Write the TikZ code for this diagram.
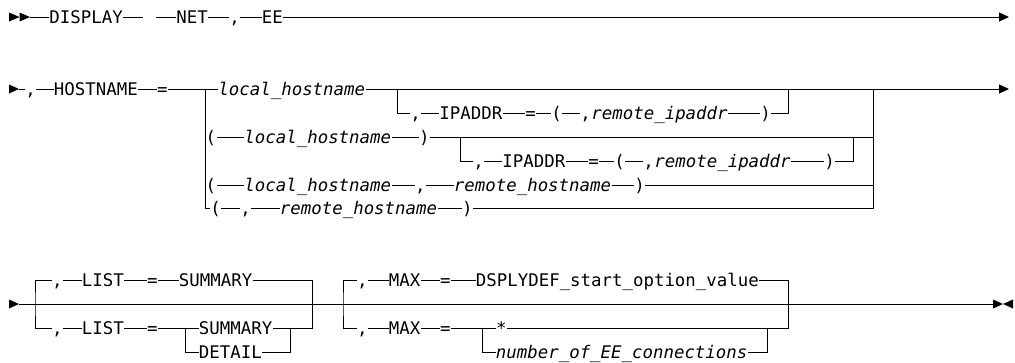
\documentclass[tikz,border=0pt]{standalone}
\usepackage{fontspec}
\setmonofont{DejaVu Sans Mono}
\usetikzlibrary{arrows.meta}
\newcommand{\railfont}{\ttfamily\fontsize{17.4}{20}\selectfont}

\begin{document}
\begin{tikzpicture}[x=1pt, y=-1pt, line width=0.9pt,
    kw/.style={anchor=west, inner sep=0pt, text height=12.7pt, text depth=0pt, font=\railfont},
    var/.style={kw, font=\railfont\itshape},
    endarrow/.style={-{Triangle[length=10pt,width=9pt]}}]
  \useasboundingbox (0,0) rectangle (1015,362);

  % first line
  \fill (9,12.5) -- (19.5,17) -- (9,21.5) -- cycle;
  \fill (19.5,12.5) -- (30,17) -- (19.5,21.5) -- cycle;
  \coordinate (start) at (30,17);
  \node[kw] (display) at (49,17) {DISPLAY};
  \coordinate (gapl) at (143,17);
  \coordinate (gapr) at (156,17);
  \node[kw] (net) at (176,17) {NET};
  \node[kw] (comma) at (229,17) {,};
  \node[kw] (ee) at (261.5,17) {EE};
  \coordinate (end) at (1009,17);
  \draw (start) -- (display);
  \draw (display) -- (gapl);
  \draw (gapr) -- (net);
  \draw (net) -- (comma);
  \draw (comma) -- (ee);
  \draw[endarrow] (ee) -- (end);

  % HOSTNAME line
  \fill (9,84.5) -- (19,89) -- (9,93.5) -- cycle;
  \coordinate (hstart) at (19,89);
  \node[kw] (hcomma) at (25,89) {,};
  \node[kw] (hostname) at (53.5,89) {HOSTNAME};
  \node[kw] (heq) at (156.75,89) {=};
  \coordinate (hsplit) at (205,89);
  \node[var] (loca) at (218,89) {local\_hostname};
  \coordinate (hjoin) at (873,89);
  \coordinate (hend) at (1009,89);
  \draw (hstart) -- (hcomma);
  \draw (hcomma) -- (hostname);
  \draw (hostname) -- (heq);
  \draw (heq) -- (loca);
  \draw[endarrow] (loca) -- (hend);

  % optional IPADDR after local_hostname
  \coordinate (ipasplit) at (397,89);
  \node[kw] (ipacomma) at (410,113) {,};
  \node[kw] (ipaword) at (439,113) {IPADDR};
  \node[kw] (ipaeq) at (525,113) {=};
  \node[kw] (ipalp) at (551,113) {(};
  \node[kw] (ipasep) at (580,113) {,};
  \node[var] (iparem) at (591,113) {remote\_ipaddr};
  \node[kw] (iparp) at (760,113) {)};
  \coordinate (ipajoin) at (788,89);
  \draw (ipasplit) |- (ipacomma);
  \draw (ipacomma) -- (ipaword);
  \draw (ipaword) -- (ipaeq);
  \draw (ipaeq) -- (ipalp);
  \draw (ipalp) -- (ipasep);
  \draw (iparem) -- (iparp);
  \draw (iparp) -| (ipajoin);

  % (local_hostname)
  \node[kw] (lpb) at (205.25,137) {(};
  \node[var] (locb) at (244,137) {local\_hostname};
  \node[kw] (rpb) at (418.75,137) {)};
  \draw (lpb) -- (locb);
  \draw (locb) -- (rpb);
  \draw (rpb) -- (hjoin |- rpb);

  % optional IPADDR after (local_hostname)
  \coordinate (ipbsplit) at (460,137);
  \node[kw] (ipbcomma) at (473,161) {,};
  \node[kw] (ipbword) at (502,161) {IPADDR};
  \node[kw] (ipbeq) at (588,161) {=};
  \node[kw] (ipblp) at (614,161) {(};
  \node[kw] (ipbsep) at (643,161) {,};
  \node[var] (ipbrem) at (654,161) {remote\_ipaddr};
  \node[kw] (ipbrp) at (824,161) {)};
  \coordinate (ipbjoin) at (853,137);
  \draw (ipbsplit) |- (ipbcomma);
  \draw (ipbcomma) -- (ipbword);
  \draw (ipbword) -- (ipbeq);
  \draw (ipbeq) -- (ipblp);
  \draw (ipblp) -- (ipbsep);
  \draw (ipbrem) -- (ipbrp);
  \draw (ipbrp) -| (ipbjoin);

  % (local_hostname,remote_hostname)
  \node[kw] (lpc) at (205.25,185) {(};
  \node[var] (locc) at (244,185) {local\_hostname};
  \node[kw] (sepc) at (414.75,185) {,};
  \node[var] (remc) at (453.5,185) {remote\_hostname};
  \node[kw] (rpc) at (634,185) {)};
  \draw (lpc) -- (locc);
  \draw (locc) -- (sepc);
  \draw (sepc) -- (remc);
  \draw (remc) -- (rpc);
  \draw (rpc) -- (hjoin |- rpc);

  % (,remote_hostname)
  \node[kw] (lpd) at (210,208.5) {(};
  \node[kw] (sepd) at (240,208.5) {,};
  \node[var] (remd) at (279.5,208.5) {remote\_hostname};
  \node[kw] (rpd) at (461.75,208.5) {)};
  \draw (lpd) -- (sepd);
  \draw (sepd) -- (remd);
  \draw (remd) -- (rpd);
  \draw (hsplit) |- (lpd);
  \draw (rpd) -| (hjoin);

  % LIST and MAX line
  \fill (9,299.5) -- (19,304) -- (9,308.5) -- cycle;
  \coordinate (lstart) at (19,304);
  \coordinate (lend) at (993,304);
  \draw (lstart) -- (lend);
  \fill (993,299.5) -- (1003,304) -- (993,308.5) -- cycle;
  \fill (1013,299.5) -- (1003,304) -- (1013,308.5) -- cycle;

  % LIST
  \coordinate (listsplit) at (35,304);
  \coordinate (listjoin) at (312,304);
  \node[kw] (lacomma) at (51.75,280) {,};
  \node[kw] (laword) at (81.5,280) {LIST};
  \node[kw] (laeq) at (146.75,280) {=};
  \node[kw] (lasum) at (178.5,280) {SUMMARY};
  \node[kw] (lbcomma) at (51.75,328) {,};
  \node[kw] (lbword) at (81.5,328) {LIST};
  \node[kw] (lbeq) at (146.75,328) {=};
  \coordinate (lbsplit) at (185,328);
  \node[kw] (lbsum) at (198.5,328) {SUMMARY};
  \node[kw] (lbdet) at (198.5,352) {DETAIL};
  \coordinate (lbjoin) at (290,328);
  \draw (lacomma) -| (listsplit) |- (lbcomma);
  \draw (lacomma) -- (laword);
  \draw (laword) -- (laeq);
  \draw (laeq) -- (lasum);
  \draw (lasum) -| (listjoin);
  \draw (lbcomma) -- (lbword);
  \draw (lbword) -- (lbeq);
  \draw (lbeq) -- (lbsum);
  \draw (lbsplit) |- (lbdet);
  \draw (lbdet) -| (lbjoin);
  \draw (lbsum) -| (listjoin);

  % MAX
  \coordinate (maxsplit) at (343,304);
  \coordinate (maxjoin) at (788,304);
  \node[kw] (macomma) at (356.75,280) {,};
  \node[kw] (maword) at (388.5,280) {MAX};
  \node[kw] (maeq) at (439.75,280) {=};
  \node[kw] (madef) at (475.5,280) {DSPLYDEF\_start\_option\_value};
  \node[kw] (mbcomma) at (356.75,328) {,};
  \node[kw] (mbword) at (388.5,328) {MAX};
  \node[kw] (mbeq) at (439.75,328) {=};
  \coordinate (mbsplit) at (482,328);
  \node[kw] (mbstar) at (495.75,328) {*};
  \node[var] (mbnum) at (495.5,352) {number\_of\_EE\_connections};
  \coordinate (mbjoin) at (767,328);
  \draw (macomma) -| (maxsplit) |- (mbcomma);
  \draw (macomma) -- (maword);
  \draw (maword) -- (maeq);
  \draw (maeq) -- (madef);
  \draw (madef) -| (maxjoin);
  \draw (mbcomma) -- (mbword);
  \draw (mbword) -- (mbeq);
  \draw (mbeq) -- (mbstar);
  \draw (mbsplit) |- (mbnum);
  \draw (mbnum) -| (mbjoin);
  \draw (mbstar) -| (maxjoin);
\end{tikzpicture}
\end{document}
